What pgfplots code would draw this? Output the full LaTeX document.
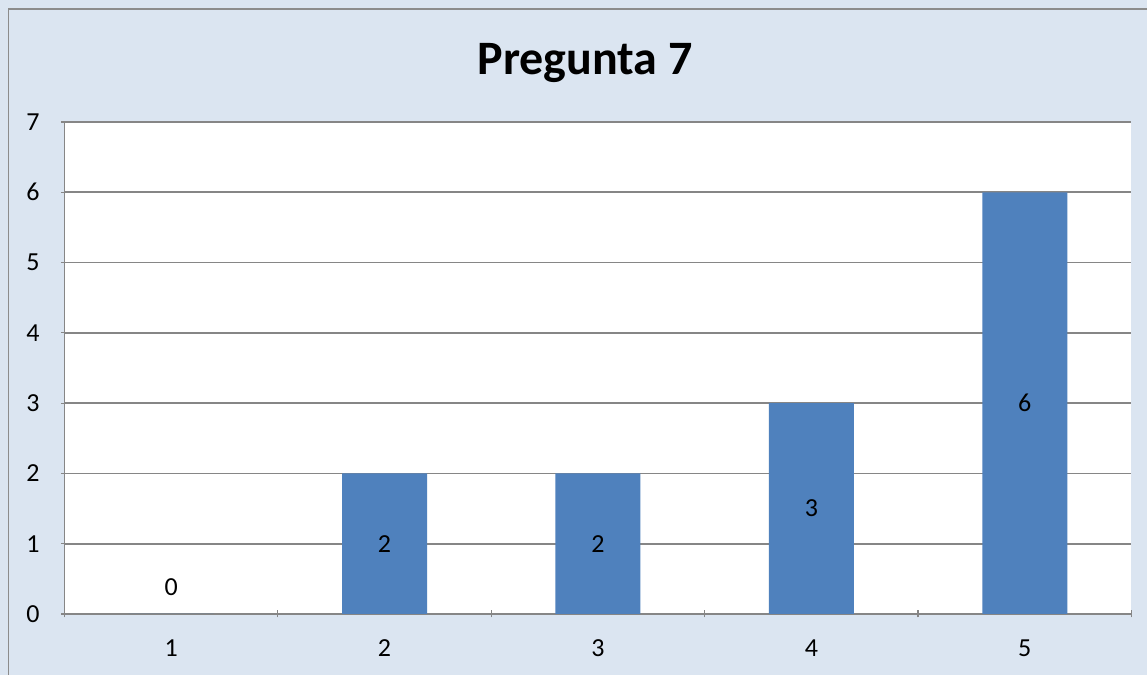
\documentclass[border=0pt]{standalone}
\usepackage{pgfplots}
\pgfplotsset{compat=1.18}
\usepackage{fontspec}
\setmainfont{Carlito}
\definecolor{bgc}{HTML}{DBE5F1}
\definecolor{barc}{HTML}{4F81BD}
\definecolor{gridc}{HTML}{868686}
\definecolor{framec}{HTML}{8C8C8C}
\begin{document}
\begin{tikzpicture}[x=1bp,y=1bp]
\useasboundingbox (0,0) rectangle (1147,675);
\fill[bgc] (0,0) rectangle (1147,675);
\draw[framec, line width=1.5bp] (8.5,-20) rectangle (1180,666);
\begin{axis}[
  at={(64.5bp,61bp)}, anchor=south west,
  width=1067bp, height=492bp, scale only axis,
  axis background/.style={fill=white},
  xmin=0.5, xmax=5.5, ymin=0, ymax=7,
  ytick={0,...,7},
  xtick={1,...,5},
  minor xtick={0.5,1.5,...,5.5},
  major x tick style={draw=none},
  minor x tick style={draw=gridc, line width=1.2bp},
  minor tick length=7bp,
  major tick length=7bp,
  tick align=outside,
  ymajorgrids,
  grid style={gridc, line width=1.6bp},
  axis lines=left,
  axis line style={gridc, line width=1.6bp, -},
  y tick style={gridc, line width=1.2bp},
  tick label style={font=\fontsize{26bp}{30bp}\selectfont, text=black},
  /pgf/number format/assume math mode=true,
  xticklabel style={yshift=-18.5bp},
  yticklabel style={xshift=-18bp},
  clip=false,
  title={\fontsize{48bp}{56bp}\selectfont\bfseries Pregunta 7},
  title style={at={(0.488,1)}, anchor=south, yshift=30bp},
]
\addplot[ybar, bar width=85bp, fill=barc, draw=none]
  coordinates {(1,0) (2,2) (3,2) (4,3) (5,6)};
\addplot[draw=none, mark=none, nodes near coords, point meta=explicit symbolic,
  nodes near coords align={center},
  every node near coord/.append style={font=\fontsize{26bp}{30bp}\selectfont, text=black, anchor=center}]
  coordinates {(1,0.38)[0] (2,1)[2] (3,1)[2] (4,1.5)[3] (5,3)[6]};
\end{axis}
\end{tikzpicture}
\end{document}
